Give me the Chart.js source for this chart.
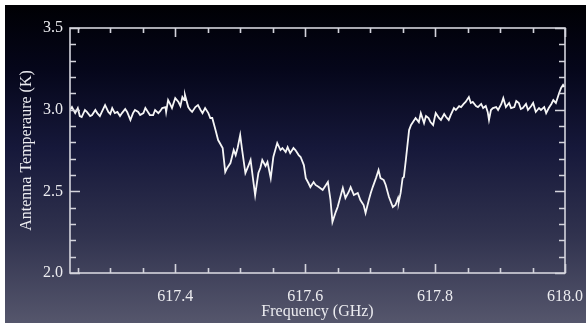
<!DOCTYPE html>
<html>
<head>
<meta charset="utf-8">
<script src="https://cdn.jsdelivr.net/npm/chart.js@4.4.1/dist/chart.umd.min.js"></script>
<style>
  html, body { margin: 0; padding: 0; background: #ffffff; }
  #wrap { position: absolute; left: 0; top: 0; width: 586px; height: 323px; overflow: hidden; }
  #bg { position: absolute; left: 5px; top: 5px; width: 581px; height: 318px;
        background: linear-gradient(to bottom, #000004 0%, #05061a 20%, #16183a 45%, #30324e 72%, #55566c 100%); }
  canvas { position: absolute; left: 0; top: 0; }
</style>
</head>
<body>
<div id="wrap">
  <div id="bg"></div>
  <canvas id="c" width="586" height="323"></canvas>
</div>
<script>
// Frequency (GHz) of each traced channel
const freqGHz = [
617.238,617.241,617.246,617.250,617.253,617.256,617.261,617.264,617.269,617.272,
617.277,617.280,617.284,617.287,617.292,617.297,617.300,617.303,617.307,617.311,
617.315,617.318,617.323,617.326,617.331,617.335,617.338,617.343,617.346,617.351,
617.354,617.358,617.361,617.366,617.369,617.374,617.377,617.380,617.385,617.386,
617.389,617.392,617.395,617.400,617.405,617.408,617.411,617.414,617.415,617.420,
617.423,617.426,617.431,617.435,617.439,617.442,617.446,617.451,617.454,617.457,
617.462,617.466,617.473,617.477,617.480,617.485,617.490,617.493,617.496,617.500,
617.503,617.508,617.513,617.516,617.520,617.523,617.528,617.531,617.534,617.539,
617.542,617.547,617.551,617.554,617.557,617.562,617.565,617.570,617.573,617.577,
617.582,617.585,617.590,617.593,617.598,617.601,617.605,617.608,617.613,617.616,
617.621,617.627,617.631,617.635,617.639,617.642,617.647,617.650,617.655,617.658,
617.662,617.667,617.670,617.675,617.681,617.685,617.690,617.693,617.698,617.701,
617.704,617.709,617.713,617.716,617.721,617.724,617.729,617.735,617.739,617.743,
617.744,617.747,617.750,617.752,617.755,617.760,617.763,617.766,617.770,617.775,
617.778,617.783,617.786,617.790,617.793,617.797,617.801,617.806,617.809,617.814,
617.817,617.821,617.824,617.829,617.832,617.837,617.840,617.844,617.847,617.852,
617.855,617.858,617.863,617.866,617.871,617.874,617.878,617.881,617.883,617.886,
617.889,617.894,617.897,617.902,617.905,617.909,617.914,617.917,617.922,617.925,
617.929,617.932,617.935,617.940,617.943,617.948,617.951,617.955,617.960,617.963,
617.968,617.971,617.975,617.979,617.982,617.986,617.991,617.994,617.997,617.999
];
// Antenna temperature (K)
const antennaTempK = [
2.998,3.016,2.979,3.010,2.961,2.955,2.998,2.986,2.961,2.967,
2.998,2.979,2.961,2.986,3.028,2.986,2.973,3.010,2.979,2.986,
2.961,2.979,3.004,2.986,2.937,2.979,2.998,2.986,2.967,2.979,
3.010,2.986,2.967,2.967,2.998,2.979,2.992,3.010,3.016,2.986,
3.059,3.035,3.010,3.071,3.047,3.022,3.077,3.059,3.090,3.016,
2.998,2.986,3.016,3.028,2.998,2.979,3.010,2.979,2.949,2.949,
2.875,2.814,2.765,2.618,2.643,2.673,2.753,2.722,2.765,2.845,
2.753,2.612,2.661,2.692,2.569,2.477,2.612,2.643,2.692,2.655,
2.679,2.581,2.710,2.753,2.796,2.753,2.765,2.741,2.771,2.734,
2.765,2.753,2.722,2.710,2.661,2.581,2.551,2.526,2.557,2.539,
2.526,2.508,2.532,2.557,2.447,2.312,2.373,2.404,2.477,2.520,
2.459,2.496,2.526,2.477,2.490,2.447,2.416,2.367,2.447,2.490,
2.526,2.581,2.630,2.581,2.569,2.539,2.465,2.404,2.416,2.459,
2.434,2.490,2.581,2.588,2.692,2.875,2.906,2.924,2.949,2.924,
2.979,2.918,2.961,2.949,2.924,2.906,2.979,2.949,2.937,2.973,
2.955,2.937,2.967,3.010,2.998,3.022,3.016,3.035,3.047,3.077,
3.041,3.047,3.022,3.016,3.035,3.010,3.022,2.986,2.937,2.998,
3.010,3.016,2.998,3.035,3.071,3.016,3.041,3.010,3.016,3.053,
3.041,3.004,3.010,3.035,2.998,3.022,3.041,2.986,3.010,2.998,
3.016,2.979,3.010,3.035,3.059,3.041,3.102,3.133,3.151,3.139
];
const xTickValues = [617.4, 617.6, 617.8, 618.0];
const yTickValues = [2.0, 2.5, 3.0, 3.5];
const xMinorTickValues = [617.25,617.30,617.35,617.40,617.45,617.50,617.55,617.60,617.65,617.70,617.75,617.80,617.85,617.90,617.95,618.00];
const yMinorTickValues = [2.0,2.1,2.2,2.3,2.4,2.5,2.6,2.7,2.8,2.9,3.0,3.1,3.2,3.3,3.4,3.5];
const xTitle = 'Frequency (GHz)';
const yTitle = 'Antenna Temperaure (K)';

const axisColor = '#d4d4dc';
const textColor = '#ececf0';
const fontFamily = '"Liberation Serif", "Times New Roman", serif';

const points = freqGHz.map((f, i) => ({ x: f, y: antennaTempK[i] }));

const isMajor = (v, list) => list.some(t => Math.abs(t - v) < 1e-6);

const frameTicks = {
  id: 'frameTicks',
  afterDatasetsDraw(chart) {
    const { ctx, chartArea: { left, right, top, bottom }, scales: { x, y } } = chart;
    ctx.save();
    ctx.strokeStyle = axisColor;
    ctx.lineWidth = 1.6;
    ctx.strokeRect(left, top, right - left, bottom - top);
    ctx.beginPath();
    xMinorTickValues.forEach(v => {
      const px = Math.round(x.getPixelForValue(v)) + 0.5;
      const len = isMajor(v, xTickValues) ? 9 : 5;
      ctx.moveTo(px, bottom); ctx.lineTo(px, bottom - len);
      ctx.moveTo(px, top); ctx.lineTo(px, top + len);
    });
    yMinorTickValues.forEach(v => {
      const py = Math.round(y.getPixelForValue(v)) + 0.5;
      const len = isMajor(v, yTickValues) ? 10 : 6;
      ctx.moveTo(left, py); ctx.lineTo(left + len, py);
      ctx.moveTo(right, py); ctx.lineTo(right - len, py);
    });
    ctx.stroke();
    ctx.restore();
  }
};

new Chart(document.getElementById('c'), {
  type: 'line',
  data: {
    datasets: [{
      data: points,
      borderColor: '#f6f6f6',
      borderWidth: 1.8,
      pointRadius: 0,
      tension: 0,
      fill: false
    }]
  },
  options: {
    responsive: false,
    animation: false,
    events: [],
    layout: { padding: { left: 0, right: 21, top: 28, bottom: 0 } },
    plugins: { legend: { display: false }, tooltip: { enabled: false } },
    scales: {
      x: {
        type: 'linear',
        min: 617.238,
        max: 618.0,
        afterBuildTicks: s => { s.ticks = xTickValues.map(v => ({ value: v })); },
        afterFit: s => { s.height = 50; s.paddingLeft = 0; s.paddingRight = 0; },
        grid: { display: false, drawTicks: false },
        border: { display: false },
        ticks: {
          color: textColor,
          padding: 14,
          maxRotation: 0,
          autoSkip: false,
          font: { family: fontFamily, size: 16 },
          callback: v => Number(v).toFixed(1)
        },
        title: {
          display: true,
          text: xTitle,
          color: textColor,
          font: { family: fontFamily, size: 16 },
          padding: { top: 0, bottom: 2 }
        }
      },
      y: {
        min: 2.0,
        max: 3.5,
        afterBuildTicks: s => { s.ticks = yTickValues.map(v => ({ value: v })); },
        afterFit: s => { s.width = 70; s.paddingTop = 0; s.paddingBottom = 0; },
        grid: { display: false, drawTicks: false },
        border: { display: false },
        ticks: {
          color: textColor,
          padding: 7,
          autoSkip: false,
          font: { family: fontFamily, size: 16 },
          callback: v => Number(v).toFixed(1)
        },
        title: {
          display: true,
          text: yTitle,
          color: textColor,
          font: { family: fontFamily, size: 16 },
          padding: { top: 17, bottom: 0 }
        }
      }
    }
  },
  plugins: [frameTicks]
});
</script>
</body>
</html>
